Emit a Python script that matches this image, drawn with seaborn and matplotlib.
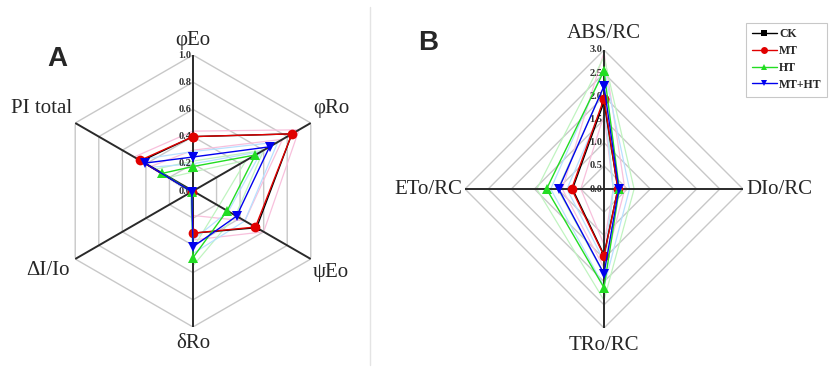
import numpy as np
import pandas as pd
import seaborn as sns
import matplotlib.pyplot as plt
from matplotlib.lines import Line2D

sns.set_style("white")
plt.rcParams["font.family"] = ["Liberation Serif", "DejaVu Serif"]

groups = ["CK", "MT", "HT", "MT+HT"]
colors = {"CK": "black", "MT": "#e00000", "HT": "#22dd22", "MT+HT": "#0000ee"}
light = {"MT": "#f8c0dc", "HT": "#c0f4c0", "MT+HT": "#b8e0ff"}
markers = {"CK": "s", "MT": "o", "HT": "^", "MT+HT": "v"}
msizes = {"CK": 4.5, "MT": 7, "HT": 6.5, "MT+HT": 6.5}

# panel A (clockwise from top)
a_labels = ["φEo", "φRo", "ψEo", "δRo", "ΔI/Io", "PI total"]
a_ck = [0.40, 0.84, 0.54, 0.31, 0.01, 0.44]
a_mt = [0.40, 0.84, 0.53, 0.31, 0.01, 0.45]
a_ht = [0.18, 0.53, 0.29, 0.49, 0.01, 0.26]
a_mtht = [0.25, 0.65, 0.37, 0.41, 0.01, 0.41]
# faint +/- SD outlines
a_mt_hi = [0.44, 0.90, 0.60, 0.36, 0.02, 0.50]
a_mt_lo = [0.30, 0.76, 0.44, 0.18, 0.00, 0.36]
a_ht_hi = [0.22, 0.60, 0.36, 0.55, 0.02, 0.32]
a_ht_lo = [0.14, 0.45, 0.22, 0.42, 0.00, 0.20]
a_mtht_hi = [0.29, 0.72, 0.44, 0.46, 0.02, 0.46]
a_mtht_lo = [0.20, 0.58, 0.30, 0.36, 0.00, 0.35]
a_levels = [0.2, 0.4, 0.6, 0.8, 1.0]
a_ticks = [0.0, 0.2, 0.4, 0.6, 0.8, 1.0]

# panel B (clockwise from top)
b_labels = ["ABS/RC", "DIo/RC", "TRo/RC", "ETo/RC"]
b_ck = [1.88, 0.30, 1.42, 0.68]
b_mt = [1.95, 0.30, 1.44, 0.70]
b_ht = [2.55, 0.33, 2.13, 1.24]
b_mtht = [2.22, 0.32, 1.83, 0.98]
b_mt_hi = [2.95, 0.45, 1.70, 0.90]
b_mt_lo = [1.60, 0.20, 1.20, 0.50]
b_ht_hi = [2.85, 0.65, 2.40, 1.45]
b_ht_lo = [2.20, 0.20, 1.85, 1.00]
b_mtht_hi = [2.60, 0.55, 2.10, 1.15]
b_mtht_lo = [1.85, 0.20, 1.55, 0.80]
b_levels = [0.5, 1.0, 1.5, 2.0, 2.5, 3.0]
b_ticks = [0.0, 0.5, 1.0, 1.5, 2.0, 2.5, 3.0]


def long_df(labels, series):
    n = len(labels)
    th = np.linspace(0, 2 * np.pi, n, endpoint=False)
    rows = []
    for g, vals in zip(groups, series):
        for i in range(n + 1):
            rows.append({"theta": th[i % n] + (2 * np.pi if i == n else 0),
                         "value": vals[i % n], "group": g})
    return pd.DataFrame(rows), th


def radar(ax, labels, series, bands, levels, ticks, rmax, offsets):
    df, th = long_df(labels, series)
    ax.set_theta_zero_location("N")
    ax.set_theta_direction(-1)
    ax.set_ylim(0, rmax)
    ax.grid(False)
    ax.spines["polar"].set_visible(False)
    ax.set_xticks([])
    ax.set_yticks([])
    ax.patch.set_alpha(0)
    thc = np.append(th, th[0])
    for lv in levels:
        ax.plot(thc, [lv] * len(thc), color="#c8c8c8", lw=1.0, zorder=0)
    for g, band in bands.items():
        for b in band:
            ax.plot(thc, list(b) + [b[0]], color=light[g], lw=0.9, zorder=0.5)
    for t in th:
        ax.plot([t, t], [0, rmax], color="#2a2a2a", lw=1.4, zorder=1)
    for g in groups:
        sns.lineplot(data=df[df["group"] == g], x="theta", y="value", color=colors[g],
                     marker=markers[g], sort=False, estimator=None, legend=False,
                     lw=1.0, markersize=msizes[g], markeredgewidth=0, ax=ax, zorder=3)
    ax.set_xlabel("")
    ax.set_ylabel("")
    for tk in ticks:
        ax.annotate(f"{tk:.1f}", xy=(0, tk), xytext=(-1, 0), textcoords="offset points",
                    ha="right", va="center", fontsize=7.5, fontweight="bold",
                    color="#333333", zorder=2)
    for t, lab, (dx, dy, ha) in zip(th, labels, offsets):
        ax.annotate(lab, xy=(t, rmax), xytext=(dx, dy), textcoords="offset pixels",
                    ha=ha, va="center", fontsize=15, annotation_clip=False)


fig = plt.figure(figsize=(8.31, 3.72), dpi=100)

axA = fig.add_axes([57 / 831, 45 / 372, 272 / 831, 272 / 372], projection="polar")
radar(axA, a_labels, [a_ck, a_mt, a_ht, a_mtht],
      {"MT": [a_mt_hi, a_mt_lo], "HT": [a_ht_hi, a_ht_lo], "MT+HT": [a_mtht_hi, a_mtht_lo]},
      a_levels, a_ticks, 1.0,
      [(0, 15, "center"), (2, 15, "left"), (2, -13, "left"),
       (0, -16, "center"), (-5, -11, "right"), (-3, 15, "right")])

axB = fig.add_axes([465 / 831, 44 / 372, 278 / 831, 278 / 372], projection="polar")
radar(axB, b_labels, [b_ck, b_mt, b_ht, b_mtht],
      {"MT": [b_mt_hi, b_mt_lo], "HT": [b_ht_hi, b_ht_lo], "MT+HT": [b_mtht_hi, b_mtht_lo]},
      b_levels, b_ticks, 3.0,
      [(0, 17, "center"), (3, 0, "left"), (0, -17, "center"), (-3, 0, "right")])

fig.text(57 / 831, 1 - 59 / 372, "A", fontsize=20, fontweight="bold",
         family="Liberation Sans", ha="center", va="center")
fig.text(428 / 831, 1 - 43 / 372, "B", fontsize=20, fontweight="bold",
         family="Liberation Sans", ha="center", va="center")

fig.add_artist(Line2D([370 / 831, 370 / 831], [0.02, 0.98], color="#e4e4e4", lw=1))

handles = [Line2D([], [], color=colors[g], marker=markers[g], lw=1.0,
                  markersize=5, markeredgewidth=0) for g in groups]
leg = fig.legend(handles, groups, loc="upper right", bbox_to_anchor=(1.0, 1 - 19 / 372),
                 frameon=True, fancybox=False, edgecolor="#bbbbbb", handlelength=2.1,
                 handletextpad=0.2, labelspacing=0.4, borderpad=0.5, borderaxespad=0.3,
                 prop={"family": "Liberation Serif", "weight": "bold", "size": 8.5})
leg.get_frame().set_linewidth(0.8)

fig.savefig("out.png", dpi=100)
